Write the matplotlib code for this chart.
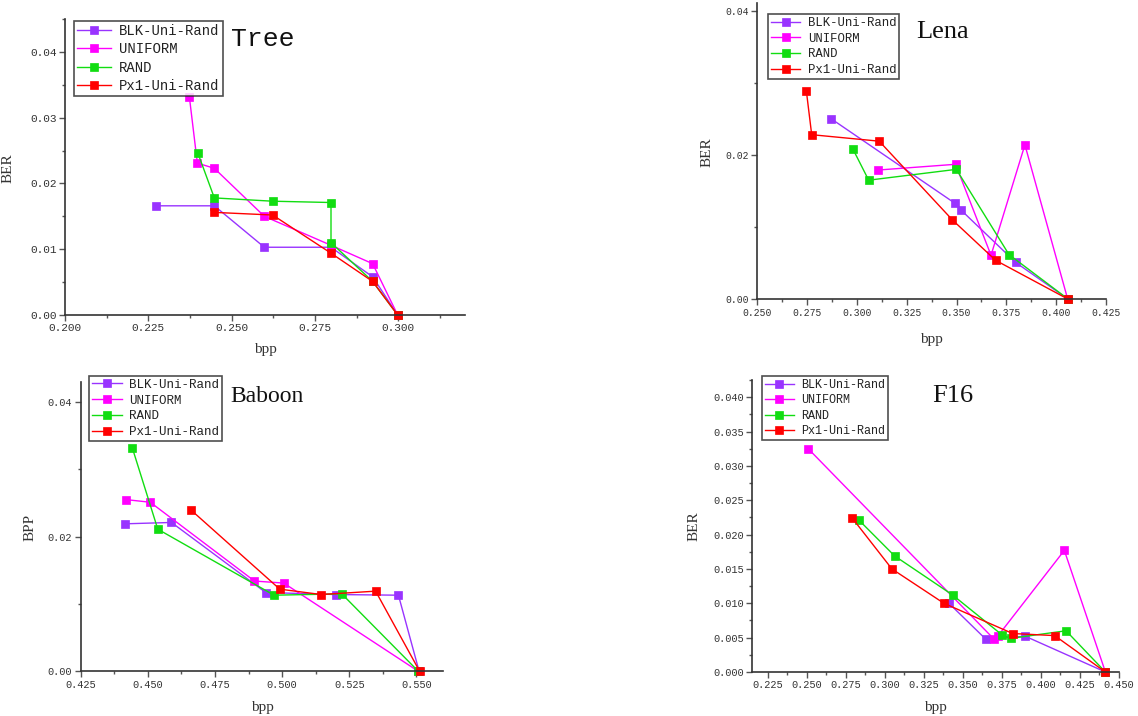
import matplotlib
matplotlib.use("Agg")
import matplotlib.pyplot as plt
from matplotlib.ticker import MultipleLocator, FormatStrFormatter

W, H = 1138, 716

# ---------------- data ----------------
series_names = ["BLK-Uni-Rand", "UNIFORM", "RAND", "Px1-Uni-Rand"]
colors = ["#9933FF", "#FF00FF", "#11DD11", "#FF0000"]

tree_blk_x = [0.2273, 0.2448, 0.2598, 0.2798, 0.2923, 0.2998]
tree_blk_y = [0.0166, 0.0166, 0.0103, 0.0103, 0.0058, 0.0]
tree_uni_x = [0.2373, 0.2397, 0.2448, 0.2598, 0.2798, 0.2923, 0.2998]
tree_uni_y = [0.0332, 0.0231, 0.0223, 0.0150, 0.0106, 0.0078, 0.0]
tree_rand_x = [0.2398, 0.2448, 0.2623, 0.2798, 0.2798, 0.2923, 0.2998]
tree_rand_y = [0.0247, 0.0178, 0.0173, 0.0171, 0.0110, 0.0051, 0.0]
tree_px1_x = [0.2448, 0.2623, 0.2798, 0.2923, 0.2998]
tree_px1_y = [0.0156, 0.0152, 0.0094, 0.0051, 0.0]

lena_blk_x = [0.2871, 0.3492, 0.3521, 0.3797, 0.4061]
lena_blk_y = [0.0250, 0.0133, 0.0124, 0.0051, 0.0]
lena_uni_x = [0.3104, 0.3495, 0.3673, 0.3843, 0.4058]
lena_uni_y = [0.0179, 0.0187, 0.0061, 0.0214, 0.0]
lena_rand_x = [0.2980, 0.3059, 0.3499, 0.3763, 0.4061]
lena_rand_y = [0.0208, 0.0165, 0.0180, 0.0062, 0.0]
lena_px1_x = [0.2746, 0.2773, 0.3112, 0.3479, 0.3696, 0.4061]
lena_px1_y = [0.0289, 0.0228, 0.0219, 0.0110, 0.0054, 0.0]

baboon_blk_x = [0.4416, 0.4588, 0.4939, 0.5200, 0.5433, 0.5510]
baboon_blk_y = [0.0219, 0.0221, 0.0117, 0.0114, 0.0113, 0.0]
baboon_uni_x = [0.4417, 0.4509, 0.4897, 0.5006, 0.5507]
baboon_uni_y = [0.0255, 0.0251, 0.0134, 0.0131, 0.0]
baboon_rand_x = [0.4442, 0.4537, 0.4970, 0.5222, 0.5507]
baboon_rand_y = [0.0332, 0.0211, 0.0113, 0.0115, 0.0]
baboon_px1_x = [0.4662, 0.4991, 0.5145, 0.5348, 0.5512]
baboon_px1_y = [0.0239, 0.0122, 0.0114, 0.0119, 0.0]

f16_blk_x = [0.3411, 0.3646, 0.3900, 0.4413]
f16_blk_y = [0.0100, 0.0048, 0.0052, 0.0]
f16_uni_x = [0.2510, 0.3699, 0.3723, 0.4150, 0.4413]
f16_uni_y = [0.0325, 0.0048, 0.0052, 0.0177, 0.0]
f16_rand_x = [0.2835, 0.3063, 0.3435, 0.3751, 0.3808, 0.4161, 0.4413]
f16_rand_y = [0.0221, 0.0169, 0.0112, 0.0054, 0.0049, 0.0060, 0.0]
f16_px1_x = [0.2792, 0.3046, 0.3379, 0.3819, 0.4088, 0.4413]
f16_px1_y = [0.0224, 0.0150, 0.0100, 0.0056, 0.0053, 0.0]

# ---------------- helpers ----------------
MONO = "Liberation Mono"
SERIF = "Liberation Serif"


def fx(x):
    return x / W


def fy(y):
    return 1 - y / H


def make_axes(fig, l, r, t, b):
    return fig.add_axes([fx(l), fy(b), (r - l) / W, (b - t) / H])


fig = plt.figure(figsize=(W / 100, H / 100), dpi=100)


def panel(box, data, xlim, ylim, xmaj, xmin, ymaj, ymin, yfmt, title, title_xy,
          title_font, title_size, leg_xy, leg_size, xlabel_xy, ylabel, ylabel_xy,
          tick_size):
    ax = make_axes(fig, *box)
    for (xs, ys), name, c in zip(data, series_names, colors):
        ax.plot(xs, ys, color=c, lw=1.0, marker="s", ms=5.5, mfc=c, mec=c,
                mew=0.5, label=name, clip_on=False)
    ax.set_xlim(*xlim)
    ax.set_ylim(*ylim)
    ax.xaxis.set_major_locator(MultipleLocator(xmaj))
    ax.xaxis.set_minor_locator(MultipleLocator(xmin))
    ax.yaxis.set_major_locator(MultipleLocator(ymaj))
    ax.yaxis.set_minor_locator(MultipleLocator(ymin))
    ax.xaxis.set_major_formatter(FormatStrFormatter("%.3f"))
    ax.yaxis.set_major_formatter(FormatStrFormatter(yfmt))
    for s in ["top", "right"]:
        ax.spines[s].set_visible(False)
    for s in ["left", "bottom"]:
        ax.spines[s].set_color("#333333")
        ax.spines[s].set_linewidth(1.2)
    ax.tick_params(which="major", direction="out", length=4, width=1,
                   color="#555555", labelsize=tick_size, pad=2)
    ax.tick_params(which="minor", direction="out", length=2.5, width=1,
                   color="#555555")
    for lab in ax.get_xticklabels() + ax.get_yticklabels():
        lab.set_fontfamily(MONO)
        lab.set_color("#333333")
    ax.set_xlabel("bpp", fontfamily=SERIF, fontsize=11, color="#333333")
    ax.xaxis.set_label_coords(fx(xlabel_xy[0]), fy(xlabel_xy[1]),
                              transform=fig.transFigure)
    ax.set_ylabel(ylabel, fontfamily=SERIF, fontsize=11, color="#333333")
    ax.yaxis.set_label_coords(fx(ylabel_xy[0]), fy(ylabel_xy[1]),
                              transform=fig.transFigure)
    fig.text(fx(title_xy[0]), fy(title_xy[1]), title, fontfamily=title_font,
             fontsize=title_size, ha="center", va="center", color="#111111")
    leg = ax.legend(loc="upper left", bbox_to_anchor=(fx(leg_xy[0]), fy(leg_xy[1])),
                    bbox_transform=fig.transFigure, prop={"family": MONO, "size": leg_size},
                    frameon=True, fancybox=False, borderpad=0.25, labelspacing=0.3,
                    handlelength=2.4, handletextpad=0.6, borderaxespad=0.0,
                    markerscale=1.0)
    leg.get_frame().set_edgecolor("#222222")
    leg.get_frame().set_linewidth(1.2)
    for t in leg.get_texts():
        t.set_color("#222222")
    return ax


panel((65, 465, 19, 315),
      [(tree_blk_x, tree_blk_y), (tree_uni_x, tree_uni_y),
       (tree_rand_x, tree_rand_y), (tree_px1_x, tree_px1_y)],
      (0.2, 0.32), (0, 0.045), 0.025, 0.0125, 0.01, 0.005, "%.2f",
      "Tree", (263, 39), MONO, 19, (73.7, 20.7), 10, (265, 343), "BER", (15, 168), 8)

panel((757.3, 1106, 3.3, 299.3),
      [(lena_blk_x, lena_blk_y), (lena_uni_x, lena_uni_y),
       (lena_rand_x, lena_rand_y), (lena_px1_x, lena_px1_y)],
      (0.25, 0.425), (0, 0.041), 0.025, 0.0125, 0.02, 0.01, "%.2f",
      "Lena", (943, 32), SERIF, 19, (768, 14), 8.8, (931.7, 333), "BER", (714, 152), 7)

panel((80.7, 443.3, 381.7, 671.3),
      [(baboon_blk_x, baboon_blk_y), (baboon_uni_x, baboon_uni_y),
       (baboon_rand_x, baboon_rand_y), (baboon_px1_x, baboon_px1_y)],
      (0.425, 0.56), (0, 0.043), 0.025, 0.0125, 0.02, 0.01, "%.2f",
      "Baboon", (267, 397), SERIF, 17, (88.7, 375.7), 9, (262, 701), "BPP", (37, 527), 7.4)

panel((752.3, 1119, 380, 672),
      [(f16_blk_x, f16_blk_y), (f16_uni_x, f16_uni_y),
       (f16_rand_x, f16_rand_y), (f16_px1_x, f16_px1_y)],
      (0.2152, 0.45), (0, 0.0425), 0.025, 0.0125, 0.005, 0.0025, "%.3f",
      "F16", (952.7, 396), SERIF, 19, (762.3, 375.7), 8.5, (935.7, 701), "BER", (701, 526), 7.4)

fig.savefig("out.png", dpi=100)
